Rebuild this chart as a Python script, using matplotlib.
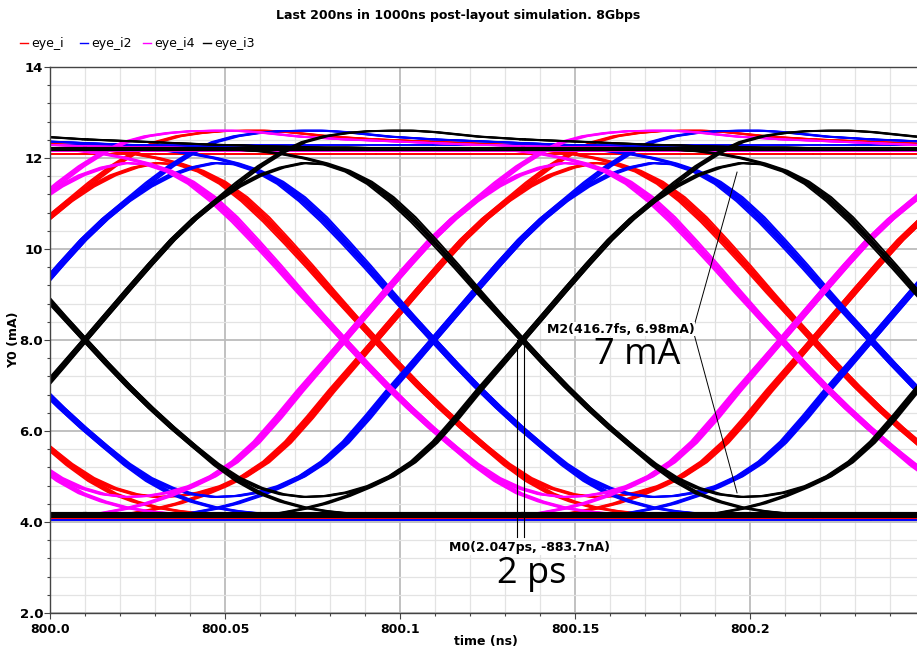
import numpy as np
import matplotlib.pyplot as plt
from matplotlib.lines import Line2D
from matplotlib.ticker import MultipleLocator

# ビット周期 (8Gbps) と 1ビット内のサンプル時刻
UI = 0.125
S = np.linspace(0, UI, 21)

# 波形の形 (黒の波形から読み取り, 交差点からの相対時刻 S)
hill = [8.00, 8.56, 9.12, 9.67, 10.20, 10.66, 11.05, 11.37, 11.62, 11.79, 11.89,
        11.86, 11.70, 11.43, 11.05, 10.60, 10.10, 9.58, 9.04, 8.52, 8.00]
valley = [8.00, 7.48, 6.98, 6.51, 6.07, 5.66, 5.28, 4.97, 4.75, 4.61, 4.55,
          4.57, 4.65, 4.79, 5.01, 5.33, 5.77, 6.32, 6.90, 7.45, 8.00]
rise_high = [8.00, 8.56, 9.12, 9.67, 10.20, 10.66, 11.06, 11.46, 11.82, 12.12, 12.35,
             12.48, 12.55, 12.59, 12.60, 12.60, 12.57, 12.52, 12.47, 12.44, 12.41]
high_decay = [12.41, 12.39, 12.37, 12.35, 12.33, 12.31, 12.29, 12.28, 12.26, 12.25, 12.24,
              12.23, 12.23, 12.22, 12.22, 12.21, 12.21, 12.21, 12.20, 12.20, 12.20]
fall_low = [8.00, 7.48, 6.98, 6.51, 6.07, 5.66, 5.25, 4.90, 4.63, 4.45, 4.32,
            4.24, 4.19, 4.16, 4.14, 4.13, 4.12, 4.12, 4.12, 4.12, 4.12]
low_decay = [4.12, 4.12, 4.12, 4.12, 4.12, 4.12, 4.12, 4.12, 4.12, 4.12, 4.12,
             4.12, 4.12, 4.12, 4.12, 4.12, 4.12, 4.12, 4.12, 4.12, 4.12]
high_fall = [12.20, 12.20, 12.20, 12.20, 12.20, 12.20, 12.19, 12.18, 12.15, 12.09, 12.00,
             11.88, 11.72, 11.48, 11.14, 10.70, 10.18, 9.64, 9.08, 8.53, 8.00]
low_rise = [4.12, 4.12, 4.12, 4.12, 4.12, 4.12, 4.12, 4.13, 4.15, 4.20, 4.29,
            4.41, 4.57, 4.77, 5.00, 5.31, 5.74, 6.28, 6.87, 7.43, 8.00]

# 信号ごとの設定
names = ["eye_i", "eye_i2", "eye_i4", "eye_i3"]
colors = ["#ff0000", "#0000ff", "#ff00ff", "#000000"]
cross_t = [800.093, 800.1095, 800.084, 800.010]
high_level = [12.08, 12.28, 12.15, 12.20]
low_level = [4.07, 4.05, 4.10, 4.18]

# マーカー
m0_t = [800.1334, 800.1355]
m0_y = [8.0, 3.67]
m2_from = (800.1837, 8.22)
m2_to = [(800.1963, 11.69), (800.1963, 4.64)]

fig = plt.figure(figsize=(9.17, 6.48), dpi=100)
ax = fig.add_axes([50 / 917, 35 / 648, 867 / 917, 546 / 648])

jit = {0: [-0.0009, -0.0003, 0.0003, 0.0009],
       1: [-0.0009, -0.0003, 0.0003, 0.0009],
       2: [-0.0009, -0.0003, 0.0003, 0.0009],
       3: [-0.0007, 0.0, 0.0007]}
lws = [1.3, 1.3, 1.3, 1.4]
plateau_lw = [1.4, 1.4, 1.4, 3.0]

for i in range(4):
    c = cross_t[i]
    for k in range(-2, 3):
        base = c + k * UI
        for d in jit[i]:
            b = base + d
            for y in (hill, valley, rise_high, fall_low):
                ax.plot(b + S, y, color=colors[i], lw=lws[i])
            for y in (high_decay, low_decay):
                ax.plot(b + UI + S, y, color=colors[i], lw=lws[i])
            for y in (high_fall, low_rise):
                ax.plot(b - UI + S, y, color=colors[i], lw=lws[i])
        ax.plot(base + S, [high_level[i]] * len(S), color=colors[i], lw=plateau_lw[i])
        ax.plot(base + S, [low_level[i]] * len(S), color=colors[i], lw=plateau_lw[i])

# マーカー線と注釈
for t in m0_t:
    ax.plot([t, t], m0_y, color="black", lw=0.8)
for p in m2_to:
    ax.plot([m2_from[0], p[0]], [m2_from[1], p[1]], color="black", lw=0.7)

ax.text(800.1631, 8.24, "M2(416.7fs, 6.98mA)", fontsize=9, fontweight="bold",
        ha="center", va="center",
        bbox=dict(facecolor="white", edgecolor="none", pad=0.5))
ax.text(800.1677, 7.68, "7 mA", fontsize=26, family="Open Sans", ha="center", va="center")
ax.text(800.1371, 3.43, "M0(2.047ps, -883.7nA)", fontsize=9, fontweight="bold",
        ha="center", va="center",
        bbox=dict(facecolor="white", edgecolor="none", pad=0.5))
ax.text(800.1377, 2.86, "2 ps", fontsize=26, family="Open Sans", ha="center", va="center")

# 軸
ax.set_xlim(800.0, 800.24771)
ax.set_ylim(2.0, 14.0)
ax.set_xticks([800.0, 800.05, 800.1, 800.15, 800.2])
ax.set_xticklabels(["800.0", "800.05", "800.1", "800.15", "800.2"])
ax.set_yticks([2, 4, 6, 8, 10, 12, 14])
ax.set_yticklabels(["2.0", "4.0", "6.0", "8.0", "10", "12", "14"])
ax.xaxis.set_minor_locator(MultipleLocator(0.01))
ax.yaxis.set_minor_locator(MultipleLocator(0.4))
ax.grid(which="major", color="#bcbcbc", lw=1.3)
ax.grid(which="minor", color="#e3e3e3", lw=0.9)
ax.set_axisbelow(True)
ax.tick_params(which="major", direction="out", length=4, width=0.8, color="#444444", pad=2)
ax.tick_params(which="minor", direction="out", length=2, width=0.8, color="#444444")
ax.tick_params(axis="y", labelsize=9.5, pad=1)
ax.tick_params(axis="x", labelsize=9, pad=3)
for lab in ax.get_xticklabels() + ax.get_yticklabels():
    lab.set_fontweight("bold")
for sp in ax.spines.values():
    sp.set_color("#444444")
    sp.set_linewidth(1.0)
ax.spines["right"].set_visible(False)

fig.text(458 / 917, 1 - 15 / 648, "Last 200ns in 1000ns post-layout simulation. 8Gbps",
         ha="center", va="center", fontsize=9, fontweight="bold")
fig.text(14 / 917, 1 - 340 / 648, "Y0 (mA)", rotation=90, ha="center", va="center",
         fontsize=9, fontweight="bold")
fig.text(486 / 917, 1 - 642 / 648, "time (ns)", ha="center", va="center",
         fontsize=9, fontweight="bold")

# 凡例
leg_x = [20, 80, 143, 203]
for i in range(4):
    x0 = leg_x[i] / 917
    y0 = 1 - 43 / 648
    fig.add_artist(Line2D([x0, x0 + 8 / 917], [y0, y0], color=colors[i], lw=1))
    fig.text(x0 + 11 / 917, y0, names[i], ha="left", va="center", fontsize=9)

plt.savefig("out.png", dpi=100)
